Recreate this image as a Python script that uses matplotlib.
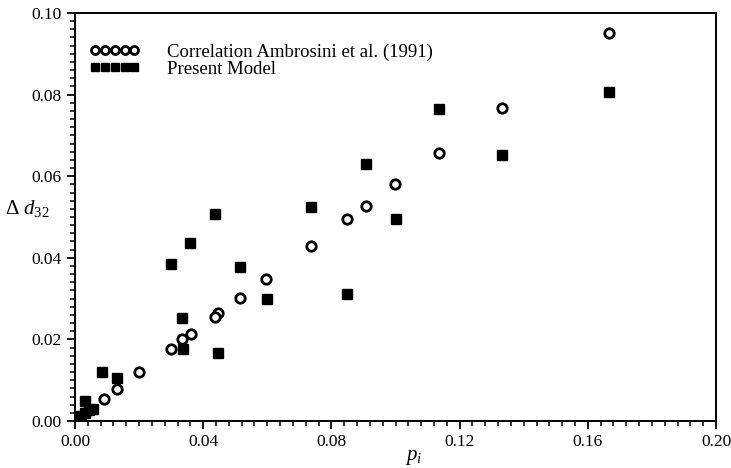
import matplotlib
matplotlib.use('Agg')
import matplotlib.pyplot as plt
from matplotlib.ticker import MultipleLocator, FormatStrFormatter

# Data
corr_x = [0.1666, 0.1332, 0.1136, 0.0998, 0.0908, 0.0849, 0.0736, 0.0596,
          0.0515, 0.0446, 0.0437, 0.0362, 0.0334, 0.0300, 0.0200, 0.0131,
          0.0089]
corr_y = [0.0951, 0.0767, 0.0657, 0.0581, 0.0527, 0.0495, 0.0429, 0.0348,
          0.0302, 0.0265, 0.0255, 0.0213, 0.0201, 0.0176, 0.0120, 0.0078,
          0.0054]

model_x = [0.1666, 0.1332, 0.1136, 0.1002, 0.0908, 0.0849, 0.0736, 0.0599,
           0.0515, 0.0437, 0.0446, 0.0359, 0.0300, 0.0334, 0.0337, 0.0084,
           0.0131, 0.0031, 0.0008, 0.0018, 0.0030, 0.0043, 0.0056]
model_y = [0.0806, 0.0652, 0.0765, 0.0495, 0.0630, 0.0311, 0.0525, 0.0299,
           0.0377, 0.0507, 0.0167, 0.0436, 0.0385, 0.0252, 0.0176, 0.0120,
           0.0105, 0.0049, 0.0006, 0.0013, 0.0020, 0.0026, 0.0030]

plt.rcParams['font.family'] = ['Liberation Serif', 'DejaVu Serif']
plt.rcParams['mathtext.fontset'] = 'custom'
plt.rcParams['mathtext.rm'] = 'Liberation Serif'
plt.rcParams['mathtext.it'] = 'Liberation Serif:italic'

fig = plt.figure(figsize=(7.31, 4.68), dpi=100)
ax = fig.add_axes([75 / 731, 1 - 421 / 468, 641 / 731, 408 / 468])

ax.plot(corr_x, corr_y, 'o', markerfacecolor='white', markeredgecolor='black',
        markeredgewidth=2.0, markersize=6.8,
        label='Correlation Ambrosini et al. (1991)')
ax.plot(model_x, model_y, 's', color='black', markersize=7.2,
        label='Present Model')

ax.set_xlim(0, 0.20)
ax.set_ylim(0, 0.10)
ax.xaxis.set_major_locator(MultipleLocator(0.04))
ax.xaxis.set_minor_locator(MultipleLocator(0.004))
ax.yaxis.set_major_locator(MultipleLocator(0.02))
ax.yaxis.set_minor_locator(MultipleLocator(0.002))
ax.xaxis.set_major_formatter(FormatStrFormatter('%.2f'))
ax.yaxis.set_major_formatter(FormatStrFormatter('%.2f'))
ax.tick_params(which='major', direction='out', length=6, width=1.3,
               labelsize=12.5, top=False, right=False)
ax.tick_params(which='minor', direction='out', length=3.5, width=1.1,
               top=False, right=False)
for s in ax.spines.values():
    s.set_linewidth(1.4)

ax.set_xlabel(r'$p_i$', fontsize=15, labelpad=2)
ax.xaxis.set_label_coords(0.528, -0.065)
ax.set_ylabel(r'$\Delta\ d_{32}$', fontsize=15, rotation=0, va='center')
ax.yaxis.set_label_coords(-0.075, 0.522)

ax.legend(loc='upper left', bbox_to_anchor=(0.0225, 0.925),
          frameon=False, numpoints=5, handlelength=2.7, handletextpad=1.45,
          fontsize=13.5, labelspacing=0.0, borderaxespad=0, borderpad=0,
          markerscale=0.85)

fig.savefig('out.png', dpi=100)
